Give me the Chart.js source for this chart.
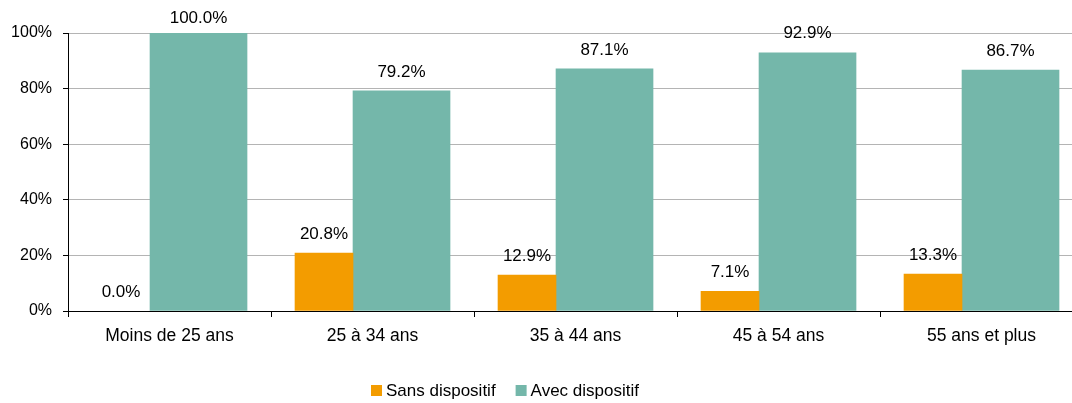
<!DOCTYPE html>
<html>
<head>
<meta charset="utf-8">
<script src="https://cdn.jsdelivr.net/npm/chart.js@4.4.1/dist/chart.umd.min.js"></script>
<style>
  html, body { margin: 0; padding: 0; background: #fff; overflow: hidden; width: 1072px; height: 403px; }
  #wrap { position: relative; width: 1083px; height: 403px; }
</style>
</head>
<body>
<div id="wrap"><canvas id="c"></canvas></div>
<script>
const categories = ["Moins de 25 ans", "25 à 34 ans", "35 à 44 ans", "45 à 54 ans", "55 ans et plus"];
const sansDispositif = [0.0, 20.8, 12.9, 7.1, 13.3];
const avecDispositif = [100.0, 79.2, 87.1, 92.9, 86.7];
const seriesNames = ["Sans dispositif", "Avec dispositif"];
const seriesColors = ["#F39C00", "#74B7AA"];
const yTicks = [0, 20, 40, 60, 80, 100];

const FONT = "'Liberation Sans', Arial, sans-serif";
const SHIFT = -0.096; // group shift relative to category center (in category units)

function toPoints(values) {
  return values.map((v, i) => ({ x: i + SHIFT, y: v }));
}
function colorFor(idx) {
  return (c) => (c.raw && c.raw.y === 0) ? 'rgba(0,0,0,0)' : seriesColors[idx];
}

const labelPlugin = {
  id: 'valueLabels',
  afterDatasetsDraw(chart) {
    const ctx = chart.ctx;
    ctx.save();
    ctx.font = "17px " + FONT;
    ctx.fillStyle = "#000";
    ctx.textAlign = "center";
    ctx.textBaseline = "middle";
    chart.data.datasets.forEach((ds, di) => {
      const meta = chart.getDatasetMeta(di);
      meta.data.forEach((el, i) => {
        const v = ds.data[i].y;
        const y = Math.max(el.y - 19, chart.chartArea.top - 15);
        ctx.fillText(v.toFixed(1) + "%", el.x, y);
      });
    });
    ctx.restore();
  }
};

const legendPlugin = {
  id: 'customLegend',
  afterDraw(chart) {
    const ctx = chart.ctx;
    ctx.save();
    ctx.font = "17px " + FONT;
    ctx.textBaseline = "middle";
    ctx.textAlign = "left";
    let x = 371;
    const y = 391;
    seriesNames.forEach((name, i) => {
      ctx.fillStyle = seriesColors[i];
      ctx.fillRect(x, y - 6, 11, 11);
      ctx.fillStyle = "#000";
      ctx.fillText(name, x + 15, y);
      x += 15 + ctx.measureText(name).width + 20;
    });
    ctx.restore();
  }
};

new Chart(document.getElementById('c'), {
  type: 'bar',
  data: {
    labels: categories,
    datasets: [
      { label: seriesNames[0], data: toPoints(sansDispositif), backgroundColor: colorFor(0), barThickness: 58, xAxisID: 'xl' },
      { label: seriesNames[1], data: toPoints(avecDispositif), backgroundColor: colorFor(1), barThickness: 97, xAxisID: 'xl' }
    ]
  },
  options: {
    responsive: true,
    maintainAspectRatio: false,
    animation: false,
    layout: { padding: { top: 33, right: 0, bottom: 0, left: 0 } },
    plugins: {
      legend: { display: false },
      tooltip: { enabled: false }
    },
    scales: {
      xl: {
        type: 'linear',
        display: false,
        offset: false,
        min: -0.5,
        max: categories.length - 0.5
      },
      x: {
        type: 'category',
        position: 'bottom',
        offset: true,
        grid: { offset: true, drawOnChartArea: false, color: '#000', tickLength: 6, lineWidth: 1 },
        border: { color: '#000', width: 1 },
        ticks: { color: '#000', font: { size: 17.5, family: FONT }, padding: 9, maxRotation: 0, autoSkip: false },
        afterFit(scale) { scale.height = 92; }
      },
      y: {
        min: 0,
        max: 100,
        afterBuildTicks(scale) { scale.ticks = yTicks.map(v => ({ value: v })); },
        grid: { color: '#B4B4B4', tickColor: '#000', tickLength: 5, lineWidth: 1 },
        border: { color: '#000', width: 1 },
        ticks: { color: '#000', font: { size: 16, family: FONT }, padding: 11, callback: v => v + '%' },
        afterFit(scale) { scale.width = 68; }
      }
    }
  },
  plugins: [labelPlugin, legendPlugin]
});
</script>
</body>
</html>
